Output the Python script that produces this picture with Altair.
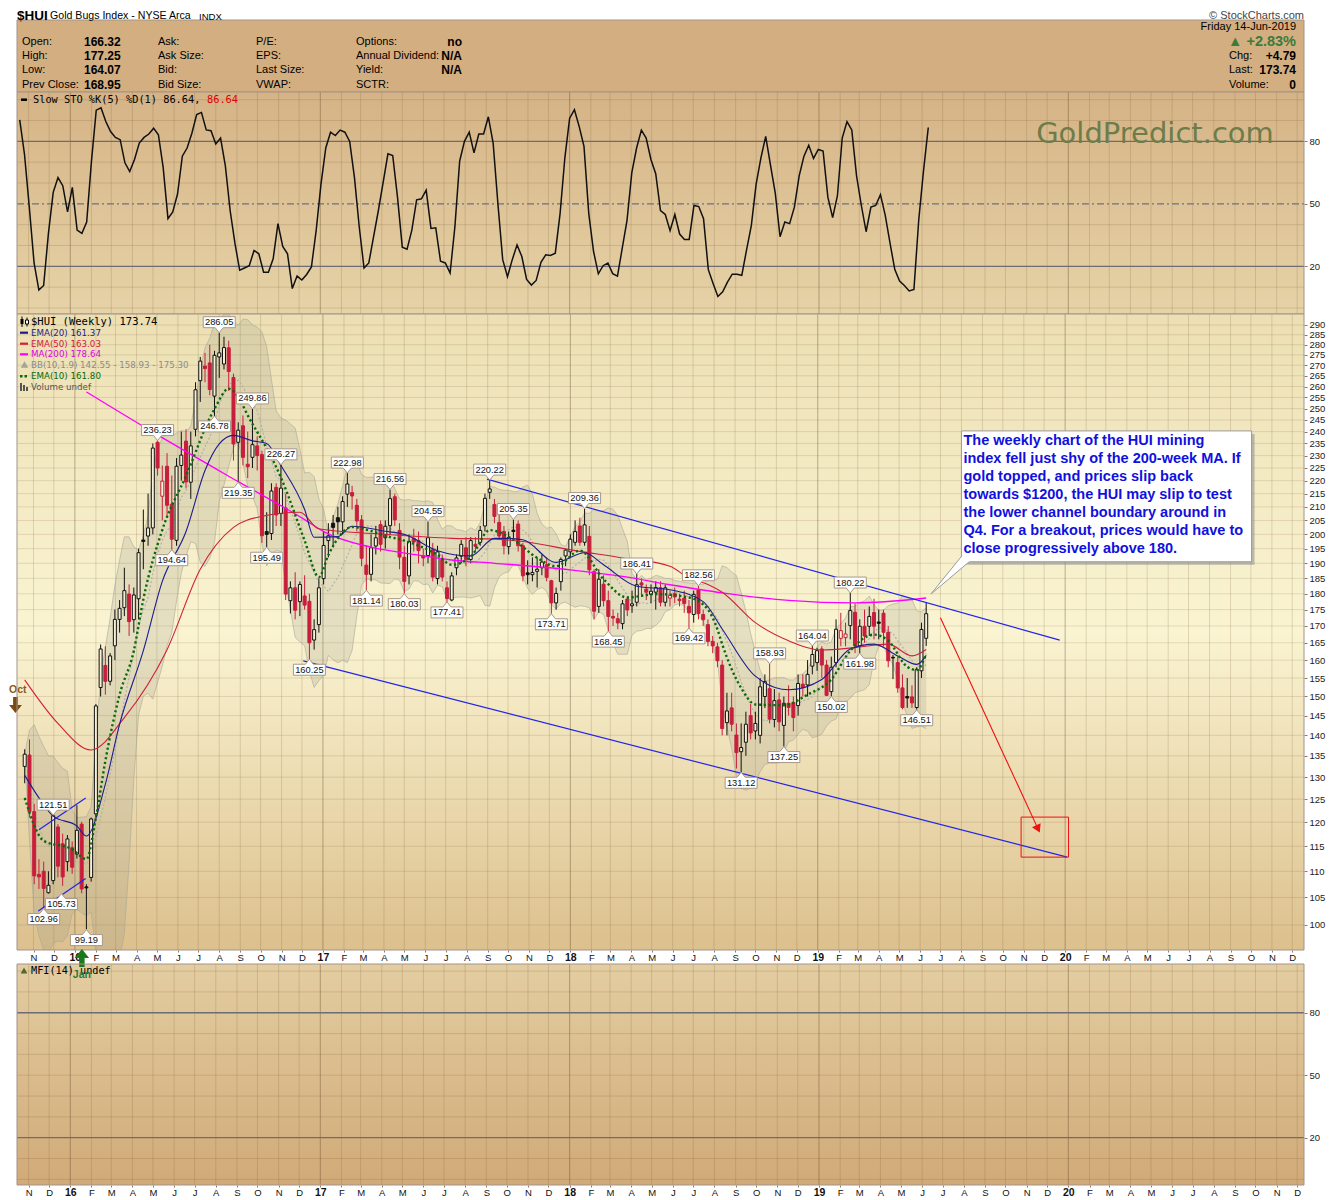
import altair as alt
import pandas as pd

FONT = "Liberation Sans"
VFONT = "DejaVu Sans"
MONO = "DejaVu Sans Mono"

# ---------------------------------------------------------------- data
START = pd.Timestamp("2015-10-19")  # first weekly bar (week start)

opens = [132.5,135.2,122.3,109.4,110.0,105.9,108.2,119.0,115.5,111.9,
114.7,113.4,119.6,107.0,108.8,121.8,152.4,158.5,154.1,164.1,
172.0,175.6,179.9,171.9,178.4,198.0,199.4,202.3,235.5,214.0,
225.7,211.0,197.9,226.0,236.0,219.4,241.0,262.7,269.6,271.1,
255.6,274.0,270.6,278.5,264.2,235.5,242.5,226.5,229.3,234.0,
230.4,201.0,200.3,217.4,207.5,209.6,177.8,181.9,177.5,179.3,
177.6,165.8,170.4,184.9,197.8,204.0,206.0,204.5,214.8,215.4,
210.6,205.2,189.4,186.3,195.9,203.5,198.8,203.1,213.8,201.4,
192.0,185.8,198.5,197.8,192.6,192.6,194.6,184.9,191.3,181.9,
178.0,188.5,192.4,195.3,191.3,196.5,197.2,203.0,215.5,210.9,
204.3,201.0,195.7,201.5,203.7,196.0,186.8,186.2,187.3,188.5,
189.5,184.2,177.1,183.9,192.5,193.9,197.2,203.0,197.2,199.3,
187.2,176.0,183.1,177.8,172.9,172.2,170.7,178.3,176.2,177.3,
183.5,181.5,179.8,180.5,181.9,177.3,178.6,180.0,178.3,178.6,
176.0,173.5,181.2,173.5,170.4,165.4,163.8,158.6,143.2,147.0,
140.1,136.0,138.3,145.0,141.1,140.0,150.0,152.1,144.0,149.1,
142.5,148.2,148.4,147.6,153.3,153.1,158.3,159.3,163.2,158.6,
151.3,159.3,166.3,166.5,170.1,174.2,164.1,169.9,169.9,174.1,
171.2,173.9,168.1,160.8,159.3,152.3,150.0,149.9,147.1,157.0,
166.32]

highs = [136.6,139.0,124.0,112.4,111.9,110.0,121.51,119.6,117.6,117.3,
116.0,123.7,120.1,107.5,121.0,148.0,164.5,164.0,162.0,175.0,
178.0,188.5,183.0,182.0,195.0,209.0,215.0,235.0,236.23,226.0,
231.0,222.0,229.0,240.0,241.0,240.0,262.0,274.0,276.0,280.0,
277.0,286.05,284.0,282.0,266.0,244.0,247.0,240.0,249.86,238.0,
232.0,208.0,219.0,219.0,226.27,215.0,184.0,187.0,184.0,186.0,
180.0,172.0,185.0,201.0,204.0,207.0,210.0,214.0,222.98,218.0,
213.0,207.0,196.0,200.0,203.0,205.0,205.0,216.56,215.0,204.0,
196.0,200.0,202.0,201.0,195.0,204.55,197.0,196.0,193.0,184.0,
187.0,193.0,198.0,199.0,199.0,199.0,203.0,215.0,220.22,213.0,
208.0,203.0,201.0,205.35,205.0,197.0,191.0,192.0,192.0,193.0,
192.0,184.5,182.0,192.0,195.0,200.0,205.0,206.0,209.36,203.0,
188.0,188.0,186.0,181.0,175.0,174.0,178.0,179.0,181.0,186.41,
185.0,183.0,183.0,184.0,184.0,183.0,181.0,182.0,180.0,181.0,
178.0,181.0,182.56,175.0,172.0,167.0,165.0,160.0,151.0,151.0,
143.0,143.0,146.0,148.0,146.0,155.0,156.0,158.93,152.0,151.0,
150.0,153.0,150.0,156.0,156.0,160.0,164.04,163.5,164.0,160.0,
161.0,172.0,174.0,171.0,180.22,177.0,172.0,175.0,176.0,178.4,
175.0,175.0,170.0,161.5,161.0,156.0,155.0,153.0,158.0,171.0,
177.25]

lows = [128.6,121.0,107.5,106.6,102.96,105.73,107.5,108.8,107.2,110.0,
109.5,112.5,105.8,99.19,108.0,121.0,150.0,150.5,153.0,160.0,
168.0,173.0,167.0,168.0,172.0,188.0,196.0,200.0,222.0,205.0,
206.0,194.64,196.0,220.0,217.0,213.0,238.0,253.0,262.0,256.0,
246.78,264.0,268.0,258.0,228.0,219.35,226.0,221.0,225.0,224.0,
197.0,195.49,198.0,203.0,203.0,178.0,173.8,172.0,173.0,175.0,
160.25,163.0,168.0,183.0,192.0,196.0,200.0,200.0,210.0,209.0,
201.0,189.0,181.14,184.0,193.0,194.0,195.0,200.0,203.0,188.0,
180.03,183.0,194.0,190.0,189.0,190.0,184.0,183.0,184.0,177.41,
177.6,186.0,190.0,189.0,190.0,194.0,196.0,201.0,213.0,204.0,
198.0,193.0,193.0,198.0,194.0,184.0,183.0,184.0,182.0,186.0,
184.0,173.71,175.0,181.0,189.0,192.0,196.0,196.0,196.0,186.0,
172.0,174.0,176.0,168.45,170.0,169.0,169.0,173.0,174.0,176.0,
179.0,178.0,177.0,175.0,176.0,176.0,176.0,177.0,176.0,174.0,
169.42,171.0,172.0,170.0,164.0,162.0,158.0,140.0,140.0,141.0,
132.0,131.12,135.0,139.0,139.0,138.0,147.0,143.0,142.0,141.0,
137.25,145.0,141.0,145.0,150.0,150.0,156.0,157.0,155.0,150.1,
150.02,158.0,164.0,164.0,166.0,162.0,161.98,165.0,167.0,166.0,
166.0,164.0,158.0,154.7,151.0,146.6,147.0,147.0,146.51,155.0,
164.07]

closes = [135.4,122.3,109.1,108.9,106.7,107.3,121.4,111.0,108.9,116.5,
110.8,118.3,106.6,106.8,120.7,147.5,163.2,154.1,161.2,172.0,
175.4,181.0,171.3,179.6,193.6,197.5,202.3,233.1,225.0,219.8,
210.6,198.3,225.7,230.2,219.5,234.0,258.5,272.0,268.4,258.6,
274.8,276.0,278.6,267.0,234.8,240.6,229.3,225.5,234.5,230.0,
199.5,200.0,216.0,207.0,217.1,179.9,181.9,174.8,183.0,176.4,
165.0,168.9,181.9,196.1,199.5,202.5,204.5,212.0,218.7,214.1,
204.8,191.7,186.3,195.3,198.8,196.5,202.9,213.1,205.2,192.1,
184.0,197.5,197.3,194.3,191.8,198.8,185.4,193.9,185.4,178.5,
185.8,191.8,196.5,191.3,197.8,195.8,201.4,213.2,216.8,206.5,
199.4,196.0,198.9,201.0,196.0,185.8,186.2,186.9,188.0,190.4,
185.3,177.1,180.1,191.3,194.5,198.3,201.0,197.2,203.4,187.8,
174.5,184.7,177.8,172.9,172.4,170.9,176.8,174.9,176.8,182.9,
182.8,180.5,180.8,182.0,177.3,181.9,179.5,179.0,177.8,176.9,
174.0,179.8,173.8,171.9,165.4,164.1,159.8,141.7,146.2,142.8,
135.8,137.0,142.8,140.6,143.0,152.6,154.0,144.1,148.9,143.4,
148.2,147.1,144.5,153.5,152.4,156.0,161.6,162.7,158.6,150.3,
158.0,169.0,168.6,167.6,174.7,164.1,169.9,167.0,172.9,169.9,
170.8,168.1,159.8,160.6,152.3,147.1,149.6,148.3,157.4,168.95,
173.74]

slow_sto = [90.3,73.7,48.4,21.6,8.6,10.8,35.8,55.5,62.6,58.7,
46.1,57.9,37.4,35.8,41.3,70.5,95.0,96.1,89.5,84.7,
81.9,80.8,69.7,65.5,71.3,79.2,81.9,83.5,86.3,83.2,
67.4,42.9,46.1,54.7,72.9,76.8,83.9,92.9,93.9,85.5,
85.1,78.7,81.6,68.2,46.8,31.1,18.1,19.2,20.3,27.6,
26.0,17.2,17.2,23.6,40.5,29.5,26.0,9.3,15.3,13.4,
16.1,19.7,37.4,59.5,76.8,84.4,82.8,85.4,84.4,80.0,
62.6,38.9,19.2,21.6,34.2,46.8,60.3,74.0,73.2,53.2,
29.2,28.2,37.4,51.9,52.4,56.6,38.2,38.5,22.4,21.6,
16.8,38.9,70.5,80.0,84.4,74.5,83.5,83.5,91.8,79.2,
50.0,23.2,15.0,23.2,30.3,24.7,13.7,11.0,13.2,21.9,
25.5,25.2,26.3,45.3,72.1,91.1,95.2,87.1,77.6,45.3,
27.1,16.4,20.3,21.6,16.5,15.3,28.7,42.1,65.0,76.8,
85.4,81.6,71.3,64.5,46.8,44.9,37.1,44.9,35.5,32.9,
32.9,49.2,48.7,42.9,18.4,11.8,5.5,7.8,12.4,16.2,
16.2,15.7,27.9,39.7,59.5,72.1,82.4,68.6,55.1,34.2,
41.3,40.5,48.4,63.4,72.9,78.1,71.8,76.1,75.3,53.2,
43.4,53.9,81.6,89.5,85.5,63.4,49.2,36.6,48.4,49.2,
54.4,44.5,31.1,18.4,12.9,10.8,8.2,8.9,42.1,65.8,
86.64]

# overlay lines (week index -> value)
ema10_wk = [0,4,10,13,15,17,20,23,25,29,34,40,43,48,54,59,62,64,69,73,76,80,87,90,94,98,103,108,112,117,
            122,127,133,140,144,146,147,151,154,160,165,170,174,179,182,186,188,190]
ema10_val = [125.3,116.1,114.4,112.4,121.0,133.8,150.5,162.7,178.2,201.6,221.9,249.9,259.0,243.3,221.2,197.8,
             185.4,192.8,202.6,201.2,199.5,197.8,192.8,189.5,192.2,201.5,198.1,191.8,189.0,194.3,
             184.7,178.8,179.9,178.8,175.0,169.0,164.6,152.3,147.9,147.7,150.5,154.6,162.7,167.4,165.6,158.1,157.2,161.8]
ema20_wk = [0,3,6,11,13,17,20,25,29,34,38,41,44,48,51,54,59,61,66,69,76,80,87,94,99,101,105,112,118,122,
            129,136,143,147,154,161,168,174,179,184,188,190]
ema20_val = [130.4,125.3,121.3,119.2,117.1,128.4,142.8,162.7,184.0,201.0,224.0,234.8,238.4,236.1,235.0,226.0,
             209.0,199.0,199.2,202.9,201.1,200.0,194.3,192.5,198.6,198.6,198.1,190.3,193.6,189.5,
             182.4,181.3,177.5,169.1,155.5,151.8,154.6,163.2,164.6,161.2,158.8,161.37]
ema50_wk = [0,7,14,21,30,37,44,50,58,62,76,90,98,105,116,126,136,140,144,147,154,161,168,175,182,187,190]
ema50_val = [154.5,143.0,136.4,144.5,163.0,188.0,202.5,206.5,208.0,202.0,200.0,198.6,198.4,197.5,194.3,191.8,
             189.0,185.0,183.0,180.5,171.0,165.6,162.9,163.6,164.6,161.2,163.03]
ma200_wk = [13,28,45,59,63,73,83,90,99,115,126,136,147,161,175,190]
ma200_val = [257.5,238.6,219.6,205.3,201.0,195.5,192.8,191.1,190.0,187.8,185.6,182.9,180.3,177.9,177.1,178.64]

# labelled highs / lows
hi_wk = [6,28,41,48,54,68,77,85,98,103,118,129,142,157,166,174]
hi_val = [121.51,236.23,286.05,249.86,226.27,222.98,216.56,204.55,220.22,205.35,209.36,186.41,182.56,158.93,164.04,180.22]
lo_wk = [4,13,31,40,45,51,60,72,80,89,111,123,140,151,160,170,176,188]
lo_val = [102.96,99.19,194.64,246.78,219.35,195.49,160.25,181.14,180.03,177.41,173.71,168.45,169.42,131.12,137.25,150.02,161.98,146.51]
lo2_wk = [5]
lo2_val = [105.73]

# drawn trend lines / annotations (date, price)
chan_up_d = ["2017-08-31", "2019-12-24"]; chan_up_v = [220.6, 165.8]
chan_lo_d = ["2016-12-03", "2020-01-04"]; chan_lo_v = [159.8, 112.8]
wedge_up_d = ["2015-11-09", "2016-01-17"]; wedge_up_v = [118.4, 125.3]
wedge_lo_d = ["2015-11-08", "2016-01-17"]; wedge_lo_v = [102.5, 108.6]
arrow_d = ["2019-07-01", "2019-11-22"]; arrow_v = [172.5, 118.6]
target_d = ["2019-10-28", "2020-01-06"]; target_v = [121.1, 112.8]
note_d = ["2019-08-01", "2020-10-02"]; note_v = [240.3, 190.5]
note_tip_d = ["2019-06-17"]; note_tip_v = [179.9]
note_text_d = ["2019-08-04"]; note_text_v = [238.8]
note_lines = ["The weekly chart of the HUI mining",
              "index fell just shy of the 200-week MA. If",
              "gold topped, and prices slip back",
              "towards $1200, the HUI may slip to test",
              "the lower channel boundary around in",
              "Q4. For a breakout, prices would have to",
              "close progressively above 180."]

price_ticks = list(range(100, 295, 5))
osc_ticks = [20, 50, 80]
osc_light = [0, 10, 30, 40, 60, 70, 90, 100]
mfi_light = [0, 10, 30, 40, 50, 60, 70, 90, 100]

# ---------------------------------------------------------------- helpers
def wdate(i):
    return (START + pd.Timedelta(days=7 * i)).strftime("%Y-%m-%d")

dates = [wdate(i) for i in range(len(closes))]

W = 1287
H_HEAD, H_STO, H_MAIN, H_GAP, H_MFI = 83, 222, 636, 14, 221

XS = alt.Scale(type="utc", domain=[alt.DateTime(year=2015, month=10, date=15, utc=True),
                                   alt.DateTime(year=2020, month=12, date=11, utc=True)])
YP = alt.Scale(type="log", domain=[95.66, 295.7], nice=False)
YS = alt.Scale(domain=[-2.9, 103.7], nice=False, zero=False)
YM = alt.Scale(domain=[-2.7, 103.4], nice=False, zero=False)

months = [(y, m) for y in range(2015, 2021) for m in range(1, 13) if (y, m) >= (2015, 11)]
month_vals = [alt.DateTime(year=y, month=m, date=1, utc=True) for y, m in months]
mdf = pd.DataFrame({"date": [f"{y}-{m:02d}-01" for y, m in months], "jan": [m == 1 for y, m in months]})

TEST = "utcmonth(datum.value) == 0"
LBL = "utcmonth(datum.value) == 0 ? utcFormat(datum.value, '%y') : substring(utcFormat(datum.value, '%b'), 0, 1)"

X_AXIS = alt.Axis(values=month_vals, labelExpr=LBL, title=None, grid=False, domain=False,
                  tickSize=2, tickColor="#8a7a6a", labelPadding=0, labelFont=FONT,
                  labelFontSize={"condition": {"test": TEST, "value": 10.5}, "value": 9.5},
                  labelFontWeight={"condition": {"test": TEST, "value": "bold"}, "value": "normal"},
                  labelColor="#111111", labelFlush=False, labelOverlap=False)

def yaxis(vals):
    return alt.Axis(orient="right", values=vals, title=None, grid=False, domain=False, tickSize=3,
                    tickColor="#8a7a6a", labelFont=FONT, labelFontSize=9.5, labelPadding=2,
                    labelColor="#222222")

YAX_P = yaxis(price_ticks)
YAX_O = yaxis(osc_ticks)

class Panel:
    """x / y channel builders that give every layer of a panel the same axis definition"""
    def __init__(self, yscale, yax, xax):
        self.yscale, self.yax, self.xax = yscale, yax, xax
    def x(self, field="date"):
        return alt.X(f"{field}:T", scale=XS, axis=self.xax)
    def y(self, field="v"):
        return alt.Y(f"{field}:Q", scale=self.yscale, axis=self.yax)

PS = Panel(YS, YAX_O, None)
PP = Panel(YP, YAX_P, X_AXIS)
PM = Panel(YM, YAX_O, X_AXIS)

ONE = alt.Data(values=[{"k": 1}])

def grad(stops):
    return alt.LinearGradient(gradient="linear", x1=0, x2=0, y1=0, y2=1,
                              stops=[alt.GradientStop(offset=o, color=c) for o, c in stops])

def bg(h, stops):
    return alt.Chart(ONE).mark_rect(fill=grad(stops)).encode(
        x=alt.value(0), x2=alt.value(W), y=alt.value(0), y2=alt.value(h))

def border(h):
    return alt.Chart(ONE).mark_rect(fill="transparent", stroke="#a3938a", strokeWidth=1).encode(
        x=alt.value(0), x2=alt.value(W), y=alt.value(0), y2=alt.value(h))

def vgrid(p, h):
    reg = alt.Chart(mdf).transform_filter("!datum.jan").mark_rule(
        color="#7a5a30", opacity=0.2, strokeWidth=1).encode(x=p.x(), y=alt.value(0), y2=alt.value(h))
    yr = alt.Chart(mdf).transform_filter("datum.jan").mark_rule(
        color="#5a4020", opacity=0.38, strokeWidth=1).encode(x=p.x(), y=alt.value(0), y2=alt.value(h))
    return [reg, yr]

def hrules(p, vals, color, opacity=1.0, width=1.0, dash=None):
    kw = dict(color=color, opacity=opacity, strokeWidth=width)
    if dash:
        kw["strokeDash"] = dash
    return alt.Chart(pd.DataFrame({"v": vals})).mark_rule(**kw).encode(
        y=p.y(), x=alt.value(0), x2=alt.value(W))

def text_px(s, x, y, size=11, color="#000000", weight="normal", align="left", font=FONT, baseline="middle"):
    return alt.Chart(ONE).mark_text(text=s, fontSize=size, color=color, fontWeight=weight, align=align,
                                    font=font, baseline=baseline).encode(x=alt.value(x), y=alt.value(y))

def rule_px(x1, y1, x2, y2, color, width=1.0, dash=None):
    kw = dict(color=color, strokeWidth=width)
    if dash:
        kw["strokeDash"] = dash
    return alt.Chart(ONE).mark_rule(**kw).encode(x=alt.value(x1), y=alt.value(y1), x2=alt.value(x2), y2=alt.value(y2))

def rect_px(x1, y1, x2, y2, **kw):
    return alt.Chart(ONE).mark_rect(**kw).encode(x=alt.value(x1), x2=alt.value(x2), y=alt.value(y1), y2=alt.value(y2))

def sym_px(shape, x, y, size, color, angle=0):
    return alt.Chart(ONE).mark_point(shape=shape, size=size, filled=True, fill=color, opacity=1,
                                     strokeWidth=0, angle=angle).encode(x=alt.value(x), y=alt.value(y))

def series_line(wks, vals, color, width, dash=None):
    df = pd.DataFrame({"date": [wdate(i) for i in wks], "v": vals})
    kw = dict(color=color, strokeWidth=width, interpolate="monotone")
    if dash:
        kw["strokeDash"] = dash
        kw["strokeCap"] = "butt"
    return alt.Chart(df).mark_line(**kw).encode(x=PP.x(), y=PP.y())

def seg(ds, vs, color, width=1.2):
    df = pd.DataFrame({"date": ds, "v": vs})
    return alt.Chart(df).mark_line(color=color, strokeWidth=width).encode(x=PP.x(), y=PP.y())

UP_ARROW = "M-0.3,1 L0.3,1 L0.3,0 L0.8,0 L0,-1 L-0.8,0 L-0.3,0 Z"
DOWN_ARROW = "M-0.3,-1 L0.3,-1 L0.3,0 L0.8,0 L0,1 L-0.8,0 L-0.3,0 Z"
HI_BOX = "M0,0 L-0.25,-0.3125 L-1,-0.3125 L-1,-1 L1,-1 L1,-0.3125 L0.25,-0.3125 Z"
LO_BOX = "M0,0 L-0.25,0.3125 L-1,0.3125 L-1,1 L1,1 L1,0.3125 L0.25,0.3125 Z"
PTR_FILL = "M0,0 L1.55,-1.915 L2.4,-2.4 L1.915,-1.615 Z"
PTR_EDGE = "M0,0 L1.55,-1.915 M0,0 L1.915,-1.615"

# ---------------------------------------------------------------- header
hdr = [
    rect_px(0, 11, W, H_HEAD, fill="#d3ae80", stroke="#a3938a", strokeWidth=1),
    text_px("$HUI", 0, 0, size=13.5, weight="bold", baseline="top"),
    text_px("Gold Bugs Index - NYSE Arca", 33, 1.8, size=10.6, baseline="top"),
    text_px("INDX", 182, 2.8, size=9.6, baseline="top"),
    text_px("\u00a9 StockCharts.com", W, 1, size=11, color="#444444", align="right", baseline="top"),
]
rows = [33, 47, 61, 76]
col1 = ["Open:", "High:", "Low:", "Prev Close:"]
val1 = ["166.32", "177.25", "164.07", "168.95"]
col2 = ["Ask:", "Ask Size:", "Bid:", "Bid Size:"]
col3 = ["P/E:", "EPS:", "Last Size:", "VWAP:"]
col4 = ["Options:", "Annual Dividend:", "Yield:", "SCTR:"]
val4 = ["no", "N/A", "N/A", ""]
for r, a, b, c, d, e, f in zip(rows, col1, val1, col2, col3, col4, val4):
    hdr.append(text_px(a, 5, r, size=11))
    hdr.append(text_px(b, 67, r, size=12, weight="bold"))
    hdr.append(text_px(c, 141, r, size=11))
    hdr.append(text_px(d, 239, r, size=11))
    hdr.append(text_px(e, 339, r, size=11))
    if f:
        hdr.append(text_px(f, 445, r, size=12, weight="bold", align="right"))
hdr += [
    text_px("Friday  14-Jun-2019", 1279, 18, size=11, align="right"),
    text_px("\u25b2 +2.83%", 1279, 33, size=14.5, weight="bold", color="#3b7b3b", align="right"),
    text_px("Chg:", 1212, 47, size=11), text_px("+4.79", 1279, 47, size=12, weight="bold", align="right"),
    text_px("Last:", 1212, 61, size=11), text_px("173.74", 1279, 61, size=12, weight="bold", align="right"),
    text_px("Volume:", 1212, 76, size=11), text_px("0", 1279, 76, size=12, weight="bold", align="right"),
]
header = alt.layer(*hdr).properties(width=W, height=H_HEAD)

# ---------------------------------------------------------------- stochastic panel
sdf = pd.DataFrame({"date": dates, "v": slow_sto})
sto_layers = [
    bg(H_STO, [(0, "#d5b386"), (1, "#e6d3a7")]),
    *vgrid(PS, H_STO),
    hrules(PS, osc_light, "#7a5a30", opacity=0.2),
    hrules(PS, [20, 80], "#6c6c76", width=1.3),
    hrules(PS, [50], "#6c7282", width=1.2, dash=[7, 3, 2, 3]),
    text_px("GoldPredict.com", 1138, 42, size=29, color="#6e7c4a", align="center", font=VFONT),
    alt.Chart(sdf).mark_line(color="#111111", strokeWidth=1.5).encode(x=PS.x(), y=PS.y()),
    rule_px(4, 7.7, 10, 7.7, "#000000", width=2.5),
    text_px("Slow STO %K(5) %D(1) 86.64,", 16, 7.7, size=10.3, font=MONO),
    text_px("86.64", 190, 7.7, size=10.3, font=MONO, color="#e00000"),
    border(H_STO),
]
sto = alt.layer(*sto_layers).properties(width=W, height=H_STO)

# ---------------------------------------------------------------- price panel
cdf = pd.DataFrame({"date": dates, "o": opens, "h": highs, "l": lows, "c": closes})
SORT = [alt.SortField(field="date", order="ascending")]
cbase = (alt.Chart(cdf)
         .transform_window(window=[alt.WindowFieldDef(op="lag", field="c", **{"as": "prev"})], sort=SORT)
         .transform_calculate(col="(datum.prev == null || datum.c >= datum.prev) ? '#111111' : '#c81e3c'")
         .transform_calculate(fillc="datum.c < datum.o ? datum.col : '#f7f0d8'"))
wick = cbase.mark_rule(strokeWidth=1).encode(
    x=PP.x(), y=PP.y("l"), y2="h:Q", color=alt.Color("col:N", scale=None))
body = cbase.mark_bar(width=3, strokeWidth=1).encode(
    x=PP.x(), y=PP.y("o"), y2="c:Q",
    fill=alt.Fill("fillc:N", scale=None), stroke=alt.Stroke("col:N", scale=None))

bbase = (alt.Chart(cdf)
         .transform_window(window=[alt.WindowFieldDef(op="mean", field="c", **{"as": "mid"}),
                                   alt.WindowFieldDef(op="stdevp", field="c", **{"as": "sd"})],
                           frame=[-9, 0], sort=SORT)
         .transform_calculate(up="datum.mid + 1.9 * datum.sd", lo="datum.mid - 1.9 * datum.sd"))
bb_area = bbase.mark_area(color="#8f8f80", opacity=0.2, clip=True).encode(x=PP.x(), y=PP.y("lo"), y2="up:Q")
bb_up = bbase.mark_line(color="#a9a797", strokeWidth=1, opacity=0.6, clip=True).encode(x=PP.x(), y=PP.y("up"))
bb_lo = bbase.mark_line(color="#a9a797", strokeWidth=1, opacity=0.6, clip=True).encode(x=PP.x(), y=PP.y("lo"))
bb_mid = bbase.mark_line(color="#b3b1a6", strokeWidth=1.2, strokeDash=[2, 2], clip=True).encode(x=PP.x(), y=PP.y("mid"))

def label_layers(wks, vals, shape, dy, xoff=0):
    df = pd.DataFrame({"date": [wdate(i) for i in wks], "v": vals, "t": [f"{v:.2f}" for v in vals]})
    box = alt.Chart(df).mark_point(shape=shape, size=1024, filled=True, fill="#ffffff", stroke="#a8988a",
                                   strokeWidth=1, opacity=1, xOffset=xoff).encode(x=PP.x(), y=PP.y())
    txt = alt.Chart(df).mark_text(font=FONT, fontSize=9.3, color="#111111", dy=dy, xOffset=xoff,
                                  baseline="middle").encode(x=PP.x(), y=PP.y(), text="t:N")
    return [box, txt]

def dfpts(ds, vs):
    return pd.DataFrame({"date": ds, "v": vs})

def boxdf(ds, vs):
    return pd.DataFrame({"date": [ds[0]], "d2": [ds[1]], "v": [vs[0]], "v2": [vs[1]]})

red_line = seg(arrow_d, arrow_v, "#ee1111", 1.1)
red_head = alt.Chart(dfpts(arrow_d[1:], arrow_v[1:])).mark_point(
    shape="triangle-down", size=90, filled=True, fill="#ee1111", opacity=1, strokeWidth=0, angle=335).encode(
    x=PP.x(), y=PP.y())
red_rect = alt.Chart(boxdf(target_d, target_v)).mark_rect(fill="transparent", stroke="#ee1111", strokeWidth=1).encode(
    x=PP.x(), x2="d2:T", y=PP.y(), y2="v2:Q")
note_shadow = alt.Chart(boxdf(note_d, note_v)).mark_rect(
    fill="#8c8c8c", opacity=0.55, xOffset=3, x2Offset=3, yOffset=3, y2Offset=3).encode(
    x=PP.x(), x2="d2:T", y=PP.y(), y2="v2:Q")
note_box = alt.Chart(boxdf(note_d, note_v)).mark_rect(fill="#ffffff", stroke="#9a9a9a", strokeWidth=1).encode(
    x=PP.x(), x2="d2:T", y=PP.y(), y2="v2:Q")
ptr_fill = alt.Chart(dfpts(note_tip_d, note_tip_v)).mark_point(
    shape=PTR_FILL, size=1600, filled=True, fill="#ffffff", opacity=1, strokeWidth=0).encode(x=PP.x(), y=PP.y())
ptr_edge = alt.Chart(dfpts(note_tip_d, note_tip_v)).mark_point(
    shape=PTR_EDGE, size=1600, filled=False, stroke="#9a9a9a", strokeWidth=1, opacity=1).encode(x=PP.x(), y=PP.y())
note_txt = alt.Chart(dfpts(note_text_d, note_text_v)).mark_text(
    text=note_lines, font=FONT, fontSize=14.5, fontWeight="bold", color="#1010e0", align="left",
    baseline="top", lineHeight=18).encode(x=PP.x(), y=PP.y())

legend = [
    rule_px(5, 2.5, 5, 13, "#000000", 1), rect_px(3.5, 5, 6.5, 10, fill="#000000"),
    rule_px(10, 3.5, 10, 12.5, "#000000", 1), rect_px(8.5, 6, 11.5, 10, fill="#ffffff", stroke="#000000", strokeWidth=1),
    text_px("$HUI (Weekly) 173.74", 14, 7.7, size=10.5, font=MONO),
    rule_px(3, 18.7, 11, 18.7, "#1c1c8f", 2.2),
    text_px("EMA(20) 161.37", 14, 18.7, size=8.7, font=VFONT, color="#1c1c8f"),
    rule_px(3, 29.7, 11, 29.7, "#d0203c", 2.2),
    text_px("EMA(50) 163.03", 14, 29.7, size=8.7, font=VFONT, color="#d0203c"),
    rule_px(3, 40.3, 11, 40.3, "#ff00ff", 2.2),
    text_px("MA(200) 178.64", 14, 40.3, size=8.7, font=VFONT, color="#e000e0"),
    sym_px("triangle-up", 7.5, 50.5, 55, "#a3a398"),
    text_px("BB(10,1.9) 142.55 - 158.93 - 175.30", 14, 51.3, size=8.7, font=VFONT, color="#8c8c8c"),
    rule_px(3, 62.3, 12, 62.3, "#0a6a0a", 2.5, dash=[2.5, 2]),
    text_px("EMA(10) 161.80", 14, 62.3, size=8.7, font=VFONT, color="#0a6a0a"),
    rule_px(4, 69, 4, 77, "#555555", 2), rule_px(7, 71, 7, 77, "#555555", 2), rule_px(10, 73, 10, 77, "#555555", 2),
    text_px("Volume undef", 14, 73, size=8.7, font=VFONT, color="#555555"),
]

main_layers = [
    bg(H_MAIN, [(0, "#ecdfb3"), (0.5, "#faf4d2"), (1, "#dcc08d")]),
    *vgrid(PP, H_MAIN),
    hrules(PP, price_ticks, "#7a5a30", opacity=0.17),
    bb_area, bb_up, bb_lo, bb_mid,
    wick, body,
    series_line(ma200_wk, ma200_val, "#ff00ff", 1.3),
    series_line(ema50_wk, ema50_val, "#d0203c", 1.1),
    series_line(ema20_wk, ema20_val, "#1c1c8f", 1.1),
    series_line(ema10_wk, ema10_val, "#0a6a0a", 2.4, dash=[2.2, 2.6]),
    seg(chan_up_d, chan_up_v, "#2424e8"), seg(chan_lo_d, chan_lo_v, "#2424e8"),
    seg(wedge_up_d, wedge_up_v, "#2424e8"), seg(wedge_lo_d, wedge_lo_v, "#2424e8"),
    *label_layers(hi_wk, hi_val, HI_BOX, -10.5),
    *label_layers(lo_wk, lo_val, LO_BOX, 10.5),
    *label_layers(lo2_wk, lo2_val, LO_BOX, 10.5, xoff=13),
    red_line, red_head, red_rect,
    note_shadow, note_box, ptr_fill, ptr_edge, note_txt,
    *legend,
    text_px("Oct", -8, 376, size=10.5, weight="bold", color="#8a5a20"),
    sym_px(DOWN_ARROW, -1.5, 391, 256, "#7a4a10"),
    border(H_MAIN),
]
main = alt.layer(*main_layers).properties(width=W, height=H_MAIN)

gap = alt.Chart(ONE).mark_point(opacity=0).encode(x=alt.value(0), y=alt.value(0)).properties(width=W, height=H_GAP)

# ---------------------------------------------------------------- MFI panel
jan_df = pd.DataFrame({"date": [wdate(13)]})
mfi_layers = [
    bg(H_MFI, [(0, "#e3cda1"), (1, "#d1aa78")]),
    *vgrid(PM, H_MFI),
    hrules(PM, mfi_light, "#7a5a30", opacity=0.2),
    hrules(PM, [20, 80], "#6c6c76", width=1.3),
    sym_px("triangle-up", 7, 6.5, 45, "#4d6a2c"),
    text_px("MFI(14) undef", 14, 7, size=10.2, font=MONO),
    alt.Chart(jan_df).mark_point(shape=UP_ARROW, size=324, filled=True, fill="#1a7a1a", opacity=1, strokeWidth=0).encode(
        x=PM.x(), y=alt.value(-6)),
    alt.Chart(jan_df).mark_text(text="Jan", font=FONT, fontSize=10.5, fontWeight="bold", color="#2a7a3a").encode(
        x=PM.x(), y=alt.value(11)),
    border(H_MFI),
]
mfi = alt.layer(*mfi_layers).properties(width=W, height=H_MFI)

chart = (alt.vconcat(header, sto, main, gap, mfi, spacing=0, bounds="flush")
         .properties(padding={"left": 0, "top": 0, "right": 6, "bottom": 4}, background="#ffffff")
         .configure_view(stroke="transparent"))

chart.save("out.html", embed_options={"renderer": "svg", "actions": False})
